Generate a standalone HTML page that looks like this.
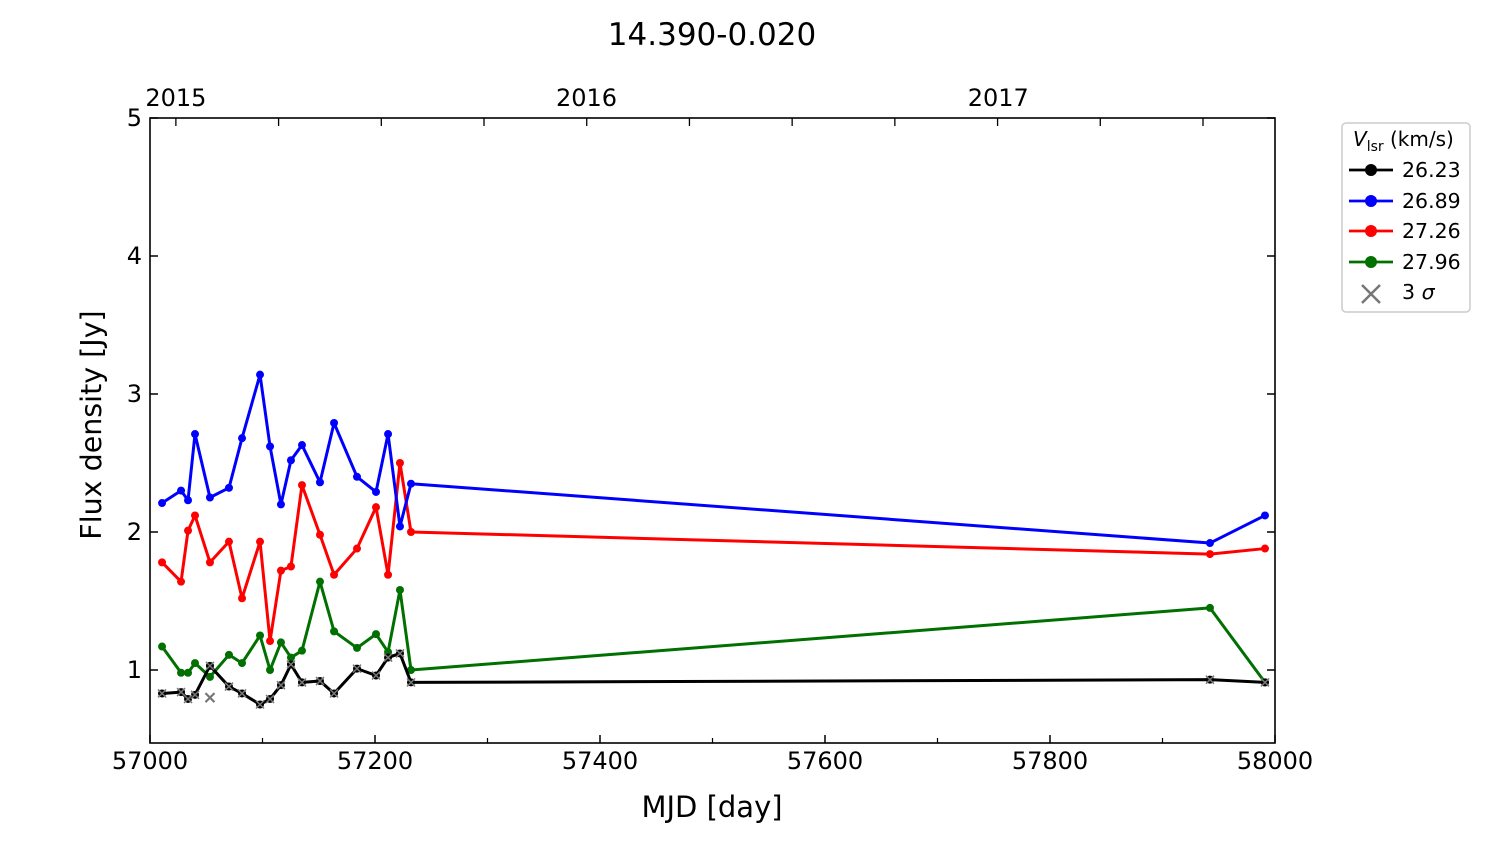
<!DOCTYPE html>
<html><head><meta charset="utf-8"><style>
body{margin:0;background:#fff;width:1500px;height:844px;overflow:hidden}
svg{font-family:"DejaVu Sans","Liberation Sans",sans-serif}
</style></head><body>
<svg id="chart" width="1500" height="844" viewBox="0 0 1500 844" xmlns="http://www.w3.org/2000/svg">
<text x="712" y="45" font-size="31" text-anchor="middle">14.390-0.020</text>
<g id="grid"></g>
<g id="series"></g>
<rect x="150" y="118" width="1125" height="625" fill="none" stroke="#000" stroke-width="1.6"/>
<g id="axes"></g>
<text x="712" y="817" font-size="29" text-anchor="middle">MJD [day]</text>
<text transform="translate(101,425) rotate(-90)" font-size="28.5" text-anchor="middle">Flux density [Jy]</text>
<g>
<rect x="1342" y="123" width="128" height="189" rx="4" fill="#fff" stroke="#ccc" stroke-width="1.5"/>
<text x="1353" y="146" font-size="20"><tspan font-style="italic">V</tspan><tspan font-size="14" dy="5">lsr</tspan><tspan dy="-5"> (km/s)</tspan></text>
<g><line x1="1349" y1="170" x2="1393" y2="170" stroke="#000" stroke-width="2.8"/><circle cx="1371" cy="170" r="6" fill="#000"/><text x="1402" y="177" font-size="20.5">26.23</text></g>
<g><line x1="1349" y1="201" x2="1393" y2="201" stroke="#0000ff" stroke-width="2.8"/><circle cx="1371" cy="201" r="6" fill="#0000ff"/><text x="1402" y="208" font-size="20.5">26.89</text></g>
<g><line x1="1349" y1="231" x2="1393" y2="231" stroke="#ff0000" stroke-width="2.8"/><circle cx="1371" cy="231" r="6" fill="#ff0000"/><text x="1402" y="238" font-size="20.5">27.26</text></g>
<g><line x1="1349" y1="262" x2="1393" y2="262" stroke="#007000" stroke-width="2.8"/><circle cx="1371" cy="262" r="6" fill="#007000"/><text x="1402" y="269" font-size="20.5">27.96</text></g>
<g><path d="M1362 285 L1380 303 M1380 285 L1362 303" stroke="#777" stroke-width="2.5"/><text x="1402" y="299" font-size="20.5">3 <tspan font-style="italic">σ</tspan></text></g>
</g>
</svg>
<script>
const mjd=[57010.7,57027.6,57033.8,57040,57053.3,57070.2,57081.8,57097.8,57106.7,57116.4,57125.3,57135.1,57151.1,57163.6,57184,57200.9,57211.6,57222.2,57232,57942.2,57991.1];
const v2623=[0.83,0.84,0.79,0.82,1.03,0.88,0.83,0.75,0.79,0.89,1.04,0.91,0.92,0.83,1.01,0.96,1.09,1.12,0.91,0.93,0.91];
const v2689=[2.21,2.30,2.23,2.71,2.25,2.32,2.68,3.14,2.62,2.20,2.52,2.63,2.36,2.79,2.40,2.29,2.71,2.04,2.35,1.92,2.12];
const v2726=[1.78,1.64,2.01,2.12,1.78,1.93,1.52,1.93,1.21,1.72,1.75,2.34,1.98,1.69,1.88,2.18,1.69,2.50,2.00,1.84,1.88];
const v2796=[1.17,0.98,0.98,1.05,0.95,1.11,1.05,1.25,1.00,1.20,1.09,1.14,1.64,1.28,1.16,1.26,1.13,1.58,1.00,1.45,0.91];
const sigmaMjd=[57053.3];
const sigmaVal=[0.80];
const xTicks=[57000,57200,57400,57600,57800,58000];
const xMinor=[57100,57300,57500,57700,57900];
const yTicks=[1,2,3,4,5];
const years=["2015","2016","2017"];
const yearMjd=[57023,57388,57754];
const NS='http://www.w3.org/2000/svg';
const X=m=>150+(m-57000)*1.125;
const Y=v=>670-(v-1)*138;
function mk(t,a,p){const e=document.createElementNS(NS,t);for(const k in a)e.setAttribute(k,a[k]);p.appendChild(e);return e;}
const ax=document.getElementById('axes'), sr=document.getElementById('series');
xTicks.forEach(t=>{const x=X(t);
 const l=mk('line',{x1:x,y1:743,x2:x,y2:735,stroke:'#000','stroke-width':1.5},ax);
 
 const tx=mk('text',{x:x,y:769,'font-size':24,'text-anchor':'middle'},ax);tx.textContent=t;
 });
xMinor.forEach(t=>{const l=mk('line',{x1:X(t),y1:743,x2:X(t),y2:738,stroke:'#000','stroke-width':1.2},ax);
 });
yTicks.forEach(t=>{const y=Y(t);
 mk('line',{x1:150,y1:y,x2:158,y2:y,stroke:'#000','stroke-width':1.5},ax);
 mk('line',{x1:1275,y1:y,x2:1267,y2:y,stroke:'#000','stroke-width':1.5},ax);
 const tx=mk('text',{x:142,y:y+8,'font-size':24,'text-anchor':'end'},ax);tx.textContent=t;
 });
for(let m=57023;m<58000;m+=91.3){const x=X(m);mk('line',{x1:x,y1:118,x2:x,y2:126,stroke:'#000','stroke-width':1.3},ax);}
years.forEach((y,i)=>{const tx=mk('text',{x:X(yearMjd[i]),y:106,'font-size':24,'text-anchor':'middle'},ax);tx.textContent=y;
 });
function series(vals,col,name){
 const g=mk('g',{},sr);
 
 
 mk('polyline',{points:vals.map((v,i)=>X(mjd[i])+','+Y(v)).join(' '),fill:'none',stroke:col,'stroke-width':3,'stroke-linejoin':'round'},g);
 vals.forEach((v,i)=>{const c=mk('circle',{cx:X(mjd[i]),cy:Y(v),r:4,fill:col},g);
  });
 return g;}
series(v2796,'#007000','series-27.96');
series(v2726,'#ff0000','series-27.26');
series(v2689,'#0000ff','series-26.89');
const gb=series(v2623,'#000','series-26.23');
v2623.forEach((v,i)=>{const x=X(mjd[i]),y=Y(v);
 mk('path',{d:`M${x-4} ${y-4}L${x+4} ${y+4}M${x+4} ${y-4}L${x-4} ${y+4}`,stroke:'#777','stroke-width':1.5},gb);});
sigmaMjd.forEach((m,i)=>{const x=X(m),y=Y(sigmaVal[i]);
 const p=mk('path',{d:`M${x-4.5} ${y-4.5}L${x+4.5} ${y+4.5}M${x+4.5} ${y-4.5}L${x-4.5} ${y+4.5}`,stroke:'#777','stroke-width':2.2},sr);
 });
</script>
</body></html>
